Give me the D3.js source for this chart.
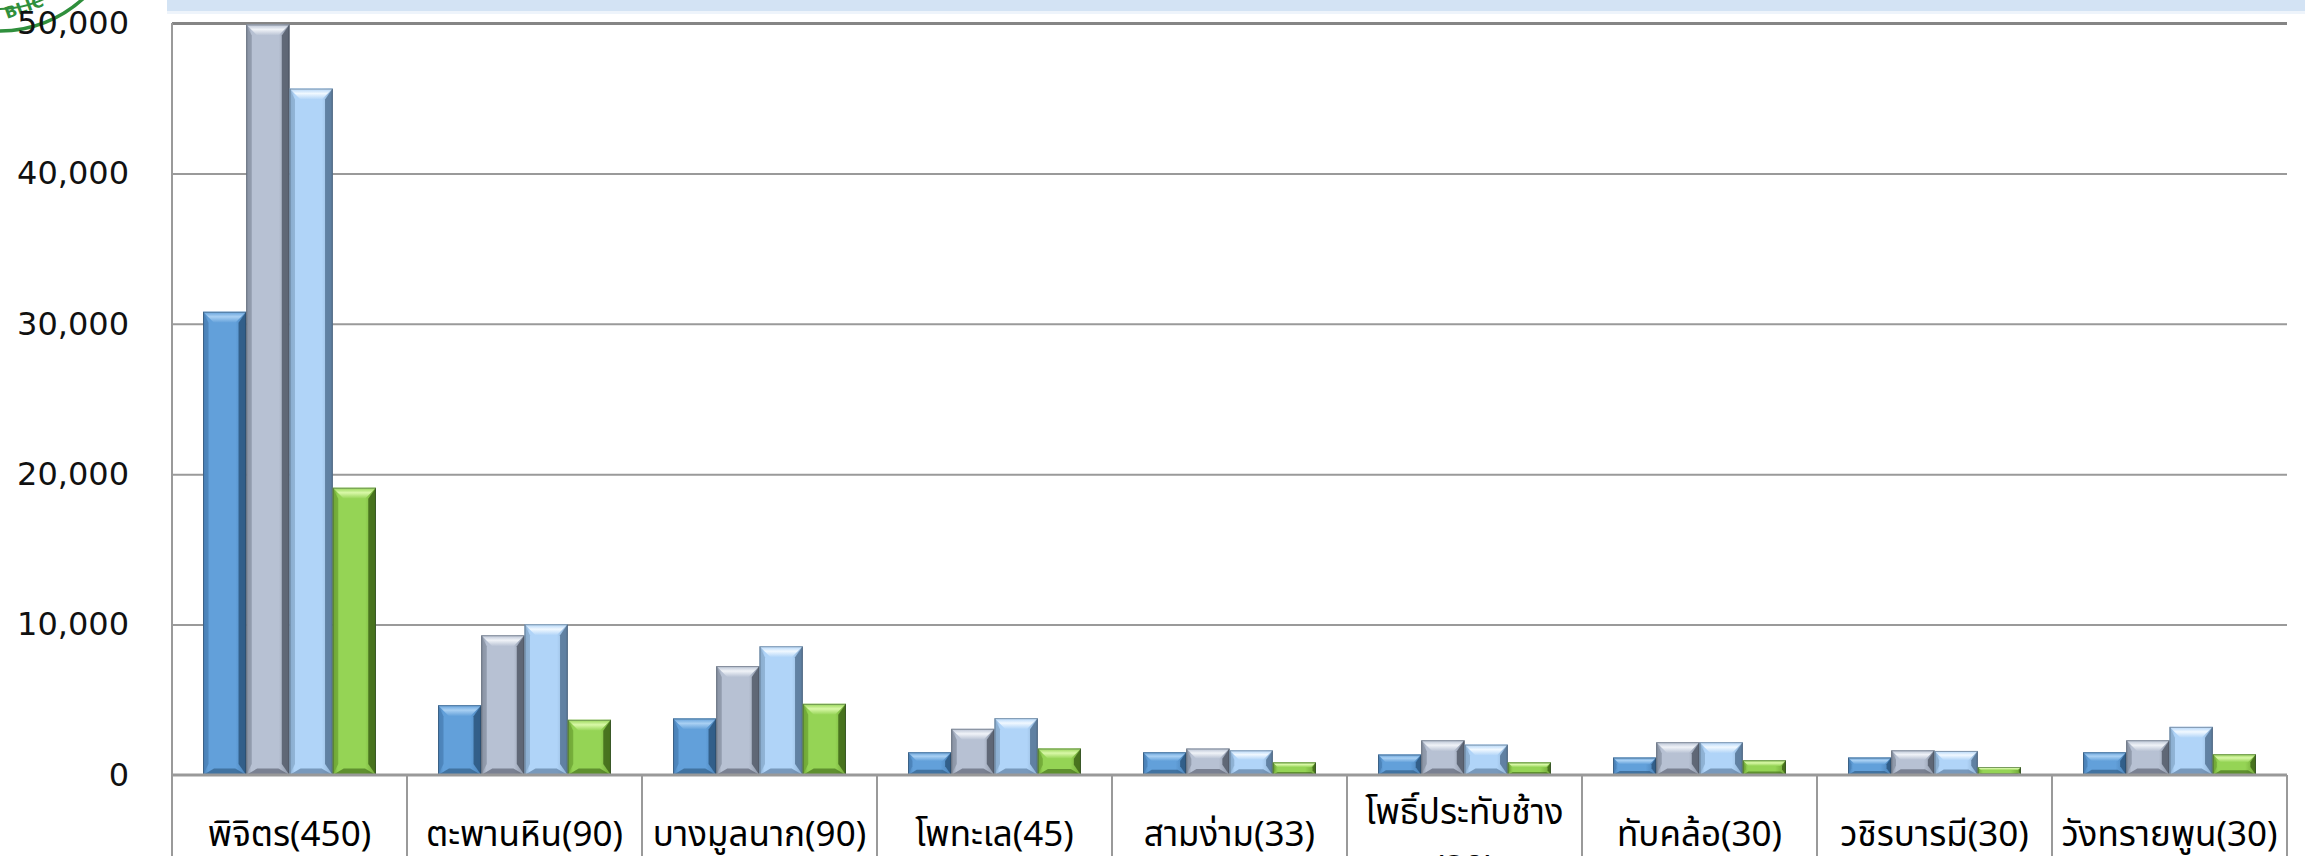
<!DOCTYPE html>
<html>
<head>
<meta charset="utf-8">
<script src="https://cdn.jsdelivr.net/npm/d3@7"></script>
<style>
  html, body { margin: 0; padding: 0; background: #ffffff; overflow: hidden; }
  svg { display: block; }
</style>
</head>
<body>
<div id="chart"></div>
<script>
// ---- data ----
const categories = ["พิจิตร(450)", "ตะพานหิน(90)", "บางมูลนาก(90)", "โพทะเล(45)", "สามง่าม(33)",
  "โพธิ์ประทับช้าง(30)", "ทับคล้อ(30)", "วชิรบารมี(30)", "วังทรายพูน(30)"];
const series1 = [30800, 4640, 3760, 1510, 1510, 1360, 1160, 1160, 1510];
const series2 = [49900, 9290, 7240, 3070, 1760, 2310, 2180, 1640, 2310];
const series3 = [45640, 10020, 8560, 3780, 1640, 2020, 2180, 1600, 3200];
const series4 = [19100, 3670, 4730, 1760, 840, 840, 980, 530, 1380];
const seriesKeys = ["s1", "s2", "s3", "s4"];
const yTicks = [0, 10000, 20000, 30000, 40000, 50000];

// ---- layout ----
const W = 2305, H = 856;
const plotLeft = 172, plotRight = 2287, plotTop = 23, plotBottom = 775;

const palettes = [
  { base: "#62a0da", light: "#a9d0f3", dark: "#2f5a83", mid: "#4a81b6" },
  { base: "#b7c1d3", light: "#f0f3f8", dark: "#59606f", mid: "#8a93a4" },
  { base: "#b0d4f8", light: "#f0f8ff", dark: "#5a7a9b", mid: "#8aacce" },
  { base: "#95d455", light: "#d9f8a8", dark: "#426b1b", mid: "#6fa636" }
];

const data = categories.map((c, i) => ({
  cat: c,
  vals: [series1[i], series2[i], series3[i], series4[i]]
}));

const svg = d3.select("#chart").append("svg")
  .attr("width", W).attr("height", H);

const defs = svg.append("defs");
palettes.forEach((p, i) => {
  const g = defs.append("linearGradient").attr("id", "body" + i)
    .attr("x1", "0").attr("x2", "1").attr("y1", "0").attr("y2", "0");
  g.append("stop").attr("offset", "0").attr("stop-color", p.mid);
  g.append("stop").attr("offset", "0.12").attr("stop-color", p.base);
  g.append("stop").attr("offset", "0.75").attr("stop-color", p.base);
  g.append("stop").attr("offset", "1").attr("stop-color", p.mid);
  const t = defs.append("linearGradient").attr("id", "top" + i)
    .attr("x1", "0").attr("x2", "0").attr("y1", "0").attr("y2", "1");
  t.append("stop").attr("offset", "0").attr("stop-color", p.base);
  t.append("stop").attr("offset", "0.45").attr("stop-color", p.light);
  t.append("stop").attr("offset", "1").attr("stop-color", p.base);
});

// top blue band
svg.append("rect").attr("x", 167).attr("y", 0).attr("width", W - 167).attr("height", 11)
  .attr("fill", "#d3e3f4");
svg.append("rect").attr("x", 167).attr("y", 11).attr("width", W - 167).attr("height", 3)
  .attr("fill", "#eef4fb");

// logo fragment (green seal)
const logo = svg.append("g");
logo.append("circle").attr("cx", 0).attr("cy", -92).attr("r", 123)
  .attr("fill", "none").attr("stroke", "#2f8f3c").attr("stroke-width", 3.5);
logo.append("circle").attr("cx", 0).attr("cy", -92).attr("r", 101)
  .attr("fill", "none").attr("stroke", "#2f8f3c").attr("stroke-width", 2);
logo.append("text").attr("x", 4).attr("y", 14).attr("transform", "rotate(-20,20,8)")
  .attr("font-family", "DejaVu Sans").attr("font-weight", "bold").attr("font-size", 16)
  .attr("fill", "#2f8f3c").text("BLIC");

// scales
const x0 = d3.scaleBand().domain(categories).range([plotLeft, plotRight])
  .paddingInner(0.264).paddingOuter(0.132);
const x1 = d3.scaleBand().domain(seriesKeys).range([0, x0.bandwidth()]).padding(0);
const y = d3.scaleLinear().domain([0, 50000]).range([plotBottom, plotTop]);

// gridlines
const grid = svg.append("g").attr("transform", `translate(${plotLeft},0)`)
  .call(d3.axisLeft(y).tickValues(yTicks.filter(v => v > 0)).tickSize(-(plotRight - plotLeft)).tickFormat(""));
grid.select(".domain").remove();
grid.selectAll(".tick line").attr("stroke", "#9a9a9a").attr("stroke-width", 2);
grid.selectAll(".tick").filter(d => d === 50000).select("line")
  .attr("stroke", "#858585").attr("stroke-width", 3);

// y axis labels
const yAxis = svg.append("g").attr("transform", `translate(${plotLeft},0)`)
  .call(d3.axisLeft(y).tickValues(yTicks).tickSize(0).tickPadding(43).tickFormat(d3.format(",")));
yAxis.select(".domain").remove();
yAxis.selectAll("text").attr("font-family", "DejaVu Sans, Verdana, sans-serif")
  .attr("font-size", 32).attr("fill", "#111");

// bars
const groups = svg.append("g").selectAll("g").data(data).join("g")
  .attr("transform", d => `translate(${x0(d.cat)},0)`);

groups.each(function(d) {
  const g = d3.select(this);
  d.vals.forEach((v, i) => {
    const bx = x1(seriesKeys[i]);
    const bw = x1.bandwidth();
    const by = y(v);
    const bh = y(0) - y(v);
    const p = palettes[i];
    const b = Math.min(11, bh / 2.6);
    const bar = g.append("g");
    bar.append("rect").attr("x", bx).attr("y", by).attr("width", bw).attr("height", bh)
      .attr("fill", `url(#body${i})`);
    // top bevel
    bar.append("polygon").attr("points",
      [[bx, by], [bx + bw, by], [bx + bw - b, by + b], [bx + b, by + b]].map(q => q.join(",")).join(" "))
      .attr("fill", `url(#top${i})`);
    // right bevel
    bar.append("polygon").attr("points",
      [[bx + bw, by], [bx + bw, by + bh], [bx + bw - b * 0.7, by + bh - b], [bx + bw - b * 0.7, by + b]].map(q => q.join(",")).join(" "))
      .attr("fill", p.dark).attr("opacity", 0.9);
    // left bevel
    bar.append("polygon").attr("points",
      [[bx, by], [bx + b * 0.5, by + b], [bx + b * 0.5, by + bh - b], [bx, by + bh]].map(q => q.join(",")).join(" "))
      .attr("fill", p.mid).attr("opacity", 0.8);
    // bottom bevel
    bar.append("polygon").attr("points",
      [[bx, by + bh], [bx + bw, by + bh], [bx + bw - b, by + bh - b * 0.6], [bx + b, by + bh - b * 0.6]].map(q => q.join(",")).join(" "))
      .attr("fill", p.dark).attr("opacity", 0.65);
    bar.append("rect").attr("x", bx + 0.5).attr("y", by + 0.5).attr("width", bw - 1).attr("height", Math.max(0, bh - 1))
      .attr("fill", "none").attr("stroke", "rgba(40,50,60,0.4)").attr("stroke-width", 1);
  });
});

// axis lines
svg.append("line").attr("x1", plotLeft).attr("x2", plotLeft).attr("y1", plotTop).attr("y2", H)
  .attr("stroke", "#9a9a9a").attr("stroke-width", 2);
svg.append("line").attr("x1", plotLeft).attr("x2", plotRight).attr("y1", plotBottom).attr("y2", plotBottom)
  .attr("stroke", "#999999").attr("stroke-width", 3);

// category label box separators
const step = x0.step();
const seps = d3.range(1, categories.length + 1).map(k => plotLeft + k * step);
svg.append("g").selectAll("line").data(seps).join("line")
  .attr("x1", d => d).attr("x2", d => d).attr("y1", plotBottom).attr("y2", H)
  .attr("stroke", "#9a9a9a").attr("stroke-width", 2);

// category labels
const labelFont = "Tahoma, 'Noto Sans Thai', 'Noto Sans Thai UI', 'Loma', 'Garuda', 'Noto Sans', 'DejaVu Sans', sans-serif";
const lab = svg.append("g").selectAll("text").data(categories).join("text")
  .attr("x", d => x0(d) + x0.bandwidth() / 2)
  .attr("text-anchor", "middle")
  .attr("font-family", labelFont).attr("font-size", 35).attr("fill", "#000");
lab.each(function(d) {
  const t = d3.select(this);
  const m = d.match(/^(.*?)(\(\d+\))$/);
  const cx = x0(d) + x0.bandwidth() / 2;
  if (d === "โพธิ์ประทับช้าง(30)") {
    t.append("tspan").attr("x", cx).attr("y", 824).text(m[1]);
    t.append("tspan").attr("x", cx).attr("y", 880).text(m[2]);
  } else {
    t.append("tspan").attr("x", cx).attr("y", 846).text(d);
  }
});
</script>
</body>
</html>
